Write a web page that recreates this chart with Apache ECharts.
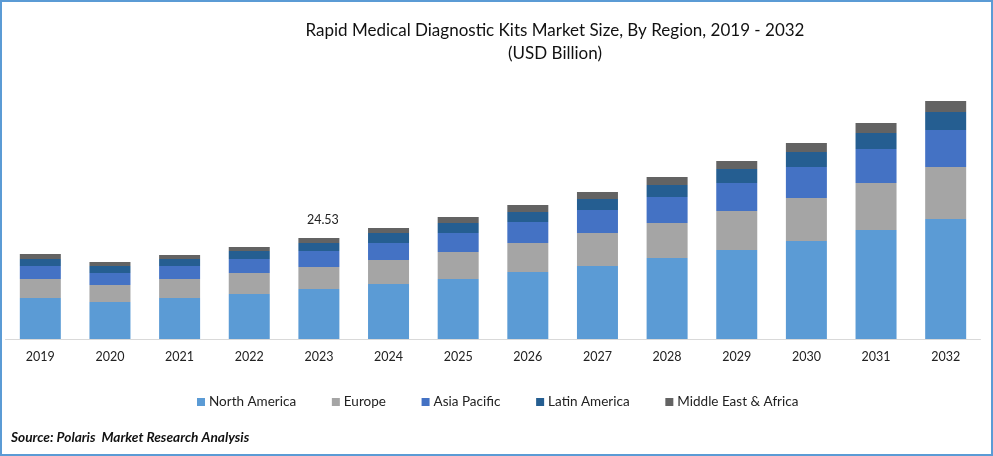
<!DOCTYPE html>
<html>
<head>
<meta charset="utf-8">
<style>
html, body { margin: 0; padding: 0; background: #fff; }
#main { width: 993px; height: 456px; }
</style>
<script src="https://cdn.jsdelivr.net/npm/echarts@6/dist/echarts.min.js"></script>
</head>
<body>
<div id="main"></div>
<script>
var years = ['2019', '2020', '2021', '2022', '2023', '2024', '2025', '2026', '2027', '2028', '2029', '2030', '2031', '2032'];
var northAmerica = [9.96, 8.99, 9.96, 10.93, 12.15, 13.36, 14.57, 16.27, 17.73, 19.68, 21.62, 23.80, 26.48, 29.15];
var europe = [4.62, 4.13, 4.62, 5.10, 5.34, 5.83, 6.56, 7.04, 8.02, 8.50, 9.47, 10.44, 11.42, 12.63];
var asiaPacific = [3.16, 2.91, 3.16, 3.40, 3.89, 4.13, 4.62, 5.10, 5.59, 6.32, 6.80, 7.53, 8.26, 8.99];
var latinAmerica = [1.70, 1.70, 1.70, 1.94, 1.94, 2.43, 2.43, 2.43, 2.67, 2.91, 3.40, 3.64, 3.89, 4.37];
var middleEast = [1.21, 0.97, 0.97, 0.97, 1.21, 1.21, 1.46, 1.70, 1.70, 1.94, 1.94, 2.19, 2.43, 2.67];
var labelYear = '2023';
var labelText = '24.53';

var font = 'Lato';
var chart = echarts.init(document.getElementById('main'));

function makeSeries(name, values, color) {
    return {
        name: name,
        type: 'bar',
        stack: 'total',
        barWidth: 41,
        itemStyle: { color: color },
        data: values
    };
}

var topSeries = makeSeries('Middle East & Africa', middleEast, '#636363');
topSeries.label = {
    show: true,
    position: 'top',
    distance: 12,
    offset: [4, 0],
    fontFamily: font,
    fontSize: 12.5,
    color: '#222',
    formatter: function (p) {
        return p.name == labelYear ? labelText : '';
    }
};

chart.setOption({
    animation: false,
    backgroundColor: '#fff',
    title: [
        {
            text: 'Rapid Medical Diagnostic Kits Market Size, By Region, 2019 - 2032',
            left: 550, top: 17, textAlign: 'center',
            textStyle: { fontFamily: font, fontSize: 17, fontWeight: 'normal', color: '#111' }
        },
        {
            text: '(USD Billion)',
            left: 550, top: 40, textAlign: 'center',
            textStyle: { fontFamily: font, fontSize: 17, fontWeight: 'normal', color: '#111' }
        },
        {
            text: 'Source: Polaris  Market Research Analysis',
            left: 6, top: 426,
            textStyle: { fontFamily: font, fontSize: 13.7, fontWeight: 'bold', fontStyle: 'italic', color: '#111' }
        }
    ],
    legend: {
        left: 192, top: 390,
        itemWidth: 8, itemHeight: 8, itemGap: 35.7,
        icon: 'rect',
        textStyle: { fontFamily: font, fontSize: 13.5, color: '#222', padding: [0, 0, 0, -1] }
    },
    grid: { left: 5.5, right: 12.5, top: 92, bottom: 117 },
    xAxis: {
        type: 'category',
        data: years,
        axisTick: { show: false },
        axisLine: { lineStyle: { color: '#d9d9d9', width: 1 } },
        axisLabel: { fontFamily: font, fontSize: 12.5, color: '#222', margin: 11 }
    },
    yAxis: { type: 'value', min: 0, max: 60, show: false, splitLine: { show: false } },
    series: [
        makeSeries('North America', northAmerica, '#5B9BD5'),
        makeSeries('Europe', europe, '#A5A5A5'),
        makeSeries('Asia Pacific', asiaPacific, '#4472C4'),
        makeSeries('Latin America', latinAmerica, '#255E91'),
        topSeries
    ],
    graphic: [{
        type: 'rect',
        silent: true,
        shape: { x: 1, y: 1, width: 991, height: 454 },
        style: { fill: null, stroke: '#5B9BD5', lineWidth: 2 }
    }]
});
</script>
</body>
</html>
